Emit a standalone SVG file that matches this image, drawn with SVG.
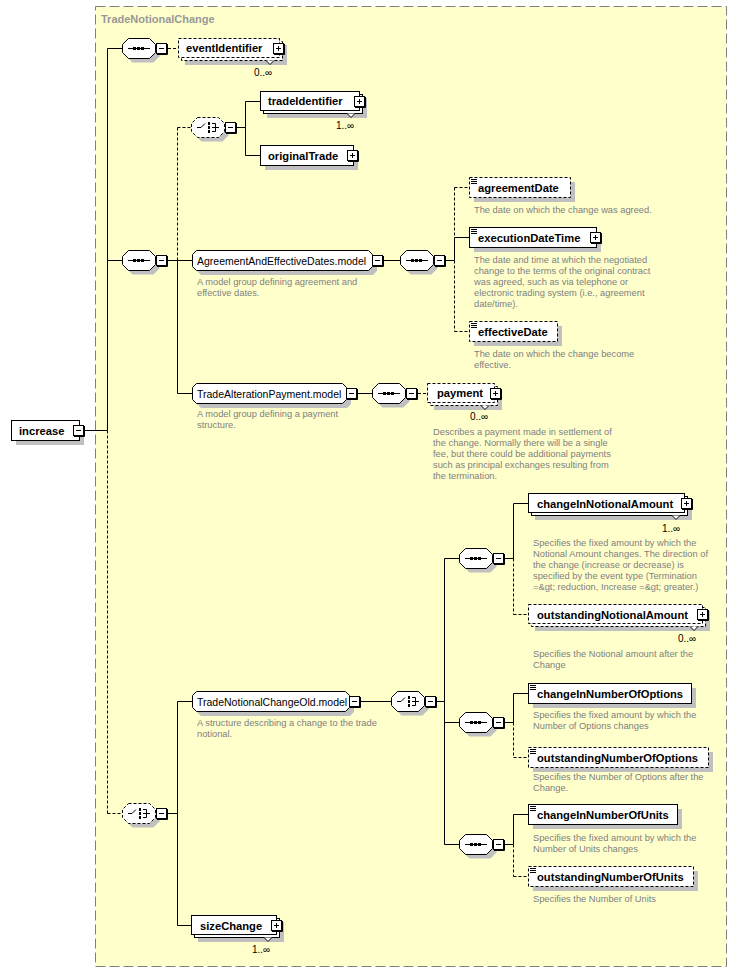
<svg xmlns="http://www.w3.org/2000/svg" xmlns:xlink="http://www.w3.org/1999/xlink" width="737" height="973" viewBox="0 0 737 973">
<defs>
<style>
.box{fill:#fff;stroke:#000;stroke-width:1}
.opt{stroke-dasharray:3,2}
.sh{fill:#c0c0c0;stroke:none}
.ln{fill:none;stroke:#000;stroke-width:1}
.dl{fill:none;stroke:#000;stroke-width:1;stroke-dasharray:3,2}
.el{font-family:"Liberation Sans",Arial,sans-serif;font-weight:bold;font-size:11.2px;fill:#000}
.gr{font-family:"Liberation Sans",Arial,sans-serif;font-size:10.5px;fill:#000}
.ds{font-family:"Liberation Sans",Arial,sans-serif;font-size:9.3px;fill:#808080}
.mu{font-family:"Liberation Sans",Arial,sans-serif;font-size:10px;fill:#000}
.ti{font-family:"Liberation Sans",Arial,sans-serif;font-weight:bold;font-size:11px;fill:#999}
.ic{fill:none;stroke:#000;stroke-width:1}
</style>
<path id="oct" d="M6.5,0.5H27.5L33.5,6.5V14.5L27.5,20.5H6.5L0.5,14.5V6.5Z"/>
<g id="minus"><rect x="0.5" y="0.5" width="10" height="10" fill="#fff" stroke="#000"/><path d="M11.5,1V11.5H1" fill="none" stroke="#000"/><path d="M3,5.5H8" fill="none" stroke="#000"/></g>
<g id="plus"><rect x="0.5" y="0.5" width="10" height="10" fill="#fff" stroke="#000"/><path d="M11.5,1V11.5H1" fill="none" stroke="#000"/><path d="M3,5.5H8M5.5,3V8" fill="none" stroke="#000"/></g>
<g id="seqi"><path d="M6,10.5H28" fill="none" stroke="#000"/><rect x="11" y="9" width="3" height="3"/><rect x="15" y="9" width="3" height="3"/><rect x="19" y="9" width="3" height="3"/></g>
<g id="chi"><path d="M6,10.5H10L14,6.5M21,6.5H24.5M21,10.5H28M21,14.5H24.5M24.5,6.5V14.5" fill="none" stroke="#000"/><rect x="17" y="5" width="2" height="3"/><rect x="17" y="9" width="2" height="3"/><rect x="17" y="13" width="2" height="3"/></g>
<path id="eq" d="M0,0.5H6M0,2.5H6M0,4.5H6" fill="none" stroke="#000"/>
</defs>

<g id="container">
<rect x="95.5" y="6.5" width="631" height="960" fill="#FFFFCC" stroke="#808080" stroke-dasharray="10,4"/>
<text class="ti" x="101" y="23">TradeNotionalChange</text>
</g>

<g id="connectors">
<path class="ln" d="M85,430.5H107.5M107.5,48.5V430.5M107.5,48.5H122.5M107.5,260.5H122.5M168,260.5H192.5M177.5,260.5V393.5M177.5,393.5H192.5M237,127.5H245.5M245.5,101.5V155.5M245.5,101.5H260.5M245.5,155.5H260.5M384,260.5H400.5M446,260.5H454.5M454.5,237.5V260.5M454.5,237.5H469.5M358,393.5H372.5M168,813.5H177.5M177.5,701.5V925.5M177.5,701.5H192.5M177.5,925.5H191.5M361,701.5H391.5M437,701.5H444.5M444.5,558.5V844.5M444.5,558.5H459.5M444.5,722.5H459.5M444.5,844.5H459.5M505,558.5H513.5M513.5,503.5V558.5M513.5,503.5H528.5M505,722.5H513.5M513.5,693.5V722.5M513.5,693.5H528.5M505,844.5H513.5M513.5,814.5V844.5M513.5,814.5H528.5"/>
<path class="dl" d="M107.5,430.5V813.5M107.5,813.5H122.5M168,48.5H178.5M177.5,127.5V260.5M177.5,127.5H191.5M454.5,187.5V237.5M454.5,187.5H469.5M454.5,260.5V331.5M454.5,331.5H469.5M418,393.5H427.5M513.5,558.5V614.5M513.5,614.5H528.5M513.5,722.5V757.5M513.5,757.5H528.5M513.5,844.5V876.5M513.5,876.5H528.5"/>
</g>

<g id="increase">
<rect class="sh" x="16" y="425" width="68" height="20"/>
<rect class="box" x="11.5" y="420.5" width="68" height="20"/>
<text class="el" x="19" y="435">increase</text>
<use xlink:href="#minus" x="73" y="425"/>
</g>

<g id="seq1" transform="translate(122,38)">
<use xlink:href="#oct" class="sh" x="4" y="4"/><use xlink:href="#oct" class="box"/><use xlink:href="#seqi"/>
<use xlink:href="#minus" x="34" y="5"/>
</g>

<g id="eventIdentifier">
<rect class="sh" x="185" y="45" width="102" height="20"/>
<rect class="box opt" x="181.5" y="41.5" width="101" height="19"/>
<rect class="box opt" x="178.5" y="38.5" width="101" height="19"/>
<path d="M266,60.5L270,64.5L274,60.5" fill="#fff" stroke="#000"/>
<text class="el" x="186" y="52">eventIdentifier</text>
<use xlink:href="#plus" x="273" y="43"/>
<text class="mu" x="254" y="76">0..∞</text>
</g>

<g id="choice1" transform="translate(191,117)">
<use xlink:href="#oct" class="sh" x="4" y="4"/><use xlink:href="#oct" class="box opt"/><use xlink:href="#chi"/>
<use xlink:href="#minus" x="34" y="5"/>
</g>

<g id="tradeIdentifier">
<rect class="sh" x="267" y="98" width="100" height="20"/>
<rect class="box" x="263.5" y="94.5" width="99" height="19"/>
<rect class="box" x="260.5" y="91.5" width="99" height="19"/>
<path d="M347,113.5L351,117.5L355,113.5" fill="#fff" stroke="#000"/>
<text class="el" x="268" y="105">tradeIdentifier</text>
<use xlink:href="#plus" x="354" y="96"/>
<text class="mu" x="336" y="129">1..∞</text>
</g>

<g id="originalTrade">
<rect class="sh" x="265" y="150" width="93" height="20"/>
<rect class="box" x="260.5" y="145.5" width="93" height="20"/>
<text class="el" x="268" y="160">originalTrade</text>
<use xlink:href="#plus" x="347" y="150"/>
</g>

<g id="seq2" transform="translate(122,250)">
<use xlink:href="#oct" class="sh" x="4" y="4"/><use xlink:href="#oct" class="box"/><use xlink:href="#seqi"/>
<use xlink:href="#minus" x="34" y="5"/>
</g>

<g id="AgreementAndEffectiveDates.model">
<path class="sh" d="M201,255H373L377,259V271L373,275H201L197,271V259Z"/>
<path class="box" d="M196.5,250.5H368.5L372.5,254.5V266.5L368.5,270.5H196.5L192.5,266.5V254.5Z"/>
<text class="gr" x="197" y="264.5">AgreementAndEffectiveDates.model</text>
<use xlink:href="#minus" x="372" y="255"/>
<text class="ds" x="197" y="285">A model group defining agreement and</text>
<text class="ds" x="197" y="296">effective dates.</text>
</g>

<g id="seq3" transform="translate(400,250)">
<use xlink:href="#oct" class="sh" x="4" y="4"/><use xlink:href="#oct" class="box"/><use xlink:href="#seqi"/>
<use xlink:href="#minus" x="34" y="5"/>
</g>

<g id="agreementDate">
<rect class="sh" x="474" y="182" width="101" height="20"/>
<rect class="box opt" x="469.5" y="177.5" width="101" height="20"/>
<use xlink:href="#eq" x="471" y="179"/>
<text class="el" x="478" y="192">agreementDate</text>
<text class="ds" x="474" y="213">The date on which the change was agreed.</text>
</g>

<g id="executionDateTime">
<rect class="sh" x="474" y="232" width="127" height="20"/>
<rect class="box" x="469.5" y="227.5" width="127" height="20"/>
<use xlink:href="#eq" x="471" y="229"/>
<text class="el" x="478" y="242">executionDateTime</text>
<use xlink:href="#plus" x="590" y="232"/>
<text class="ds" x="474" y="263">The date and time at which the negotiated</text>
<text class="ds" x="474" y="274">change to the terms of the original contract</text>
<text class="ds" x="474" y="285">was agreed, such as via telephone or</text>
<text class="ds" x="474" y="296">electronic trading system (i.e., agreement</text>
<text class="ds" x="474" y="307">date/time).</text>
</g>

<g id="effectiveDate">
<rect class="sh" x="474" y="326" width="88" height="20"/>
<rect class="box opt" x="469.5" y="321.5" width="88" height="20"/>
<use xlink:href="#eq" x="471" y="323"/>
<text class="el" x="478" y="336">effectiveDate</text>
<text class="ds" x="474" y="357">The date on which the change become</text>
<text class="ds" x="474" y="368">effective.</text>
</g>

<g id="TradeAlterationPayment.model">
<path class="sh" d="M201,388H347L351,392V404L347,408H201L197,404V392Z"/>
<path class="box" d="M196.5,383.5H342.5L346.5,387.5V399.5L342.5,403.5H196.5L192.5,399.5V387.5Z"/>
<text class="gr" x="197" y="397.5">TradeAlterationPayment.model</text>
<use xlink:href="#minus" x="346" y="388"/>
<text class="ds" x="197" y="417">A model group defining a payment</text>
<text class="ds" x="197" y="428">structure.</text>
</g>

<g id="seq4" transform="translate(372,383)">
<use xlink:href="#oct" class="sh" x="4" y="4"/><use xlink:href="#oct" class="box"/><use xlink:href="#seqi"/>
<use xlink:href="#minus" x="34" y="5"/>
</g>

<g id="payment">
<rect class="sh" x="434" y="390" width="68" height="20"/>
<rect class="box opt" x="430.5" y="386.5" width="67" height="19"/>
<rect class="box opt" x="427.5" y="383.5" width="67" height="19"/>
<path d="M481,405.5L485,409.5L489,405.5" fill="#fff" stroke="#000"/>
<text class="el" x="437" y="397">payment</text>
<use xlink:href="#plus" x="490" y="388"/>
<text class="mu" x="470" y="420">0..∞</text>
<text class="ds" x="433" y="435">Describes a payment made in settlement of</text>
<text class="ds" x="433" y="446">the change. Normally there will be a single</text>
<text class="ds" x="433" y="457">fee, but there could be additional payments</text>
<text class="ds" x="433" y="468">such as principal exchanges resulting from</text>
<text class="ds" x="433" y="479">the termination.</text>
</g>

<g id="choice2" transform="translate(122,803)">
<use xlink:href="#oct" class="sh" x="4" y="4"/><use xlink:href="#oct" class="box opt"/><use xlink:href="#chi"/>
<use xlink:href="#minus" x="34" y="5"/>
</g>

<g id="TradeNotionalChangeOld.model">
<path class="sh" d="M201,696H350L354,700V712L350,716H201L197,712V700Z"/>
<path class="box" d="M196.5,691.5H345.5L349.5,695.5V707.5L345.5,711.5H196.5L192.5,707.5V695.5Z"/>
<text class="gr" x="197" y="705.5">TradeNotionalChangeOld.model</text>
<use xlink:href="#minus" x="349" y="696"/>
<text class="ds" x="197" y="726">A structure describing a change to the trade</text>
<text class="ds" x="197" y="737">notional.</text>
</g>

<g id="choice3" transform="translate(391,691)">
<use xlink:href="#oct" class="sh" x="4" y="4"/><use xlink:href="#oct" class="box"/><use xlink:href="#chi"/>
<use xlink:href="#minus" x="34" y="5"/>
</g>

<g id="seq5" transform="translate(459,548)">
<use xlink:href="#oct" class="sh" x="4" y="4"/><use xlink:href="#oct" class="box"/><use xlink:href="#seqi"/>
<use xlink:href="#minus" x="34" y="5"/>
</g>

<g id="changeInNotionalAmount">
<rect class="sh" x="535" y="500" width="157" height="20"/>
<rect class="box" x="531.5" y="496.5" width="156" height="19"/>
<rect class="box" x="528.5" y="493.5" width="156" height="19"/>
<path d="M672,515.5L676,519.5L680,515.5" fill="#fff" stroke="#000"/>
<text class="el" x="537" y="507.5">changeInNotionalAmount</text>
<use xlink:href="#plus" x="681" y="498"/>
<text class="mu" x="662" y="532">1..∞</text>
<text class="ds" x="533" y="546">Specifies the fixed amount by which the</text>
<text class="ds" x="533" y="557">Notional Amount changes. The direction of</text>
<text class="ds" x="533" y="568">the change (increase or decrease) is</text>
<text class="ds" x="533" y="579">specified by the event type (Termination</text>
<text class="ds" x="533" y="590">=&amp;gt; reduction, Increase =&amp;gt; greater.)</text>
</g>

<g id="outstandingNotionalAmount">
<rect class="sh" x="535" y="611" width="175" height="20"/>
<rect class="box opt" x="531.5" y="607.5" width="174" height="19"/>
<rect class="box opt" x="528.5" y="604.5" width="174" height="19"/>
<path d="M690,626.5L694,630.5L698,626.5" fill="#fff" stroke="#000"/>
<text class="el" x="537" y="618.5">outstandingNotionalAmount</text>
<use xlink:href="#plus" x="697" y="609"/>
<text class="mu" x="678" y="642">0..∞</text>
<text class="ds" x="533" y="657">Specifies the Notional amount after the</text>
<text class="ds" x="533" y="668">Change</text>
</g>

<g id="seq6" transform="translate(459,712)">
<use xlink:href="#oct" class="sh" x="4" y="4"/><use xlink:href="#oct" class="box"/><use xlink:href="#seqi"/>
<use xlink:href="#minus" x="34" y="5"/>
</g>

<g id="changeInNumberOfOptions">
<rect class="sh" x="533" y="688" width="163" height="20"/>
<rect class="box" x="528.5" y="683.5" width="163" height="20"/>
<use xlink:href="#eq" x="530" y="685"/>
<text class="el" x="537" y="698">changeInNumberOfOptions</text>
<text class="ds" x="533" y="718">Specifies the fixed amount by which the</text>
<text class="ds" x="533" y="729">Number of Options changes</text>
</g>

<g id="outstandingNumberOfOptions">
<rect class="sh" x="533" y="752" width="180" height="20"/>
<rect class="box opt" x="528.5" y="747.5" width="180" height="20"/>
<use xlink:href="#eq" x="530" y="749"/>
<text class="el" x="537" y="762">outstandingNumberOfOptions</text>
<text class="ds" x="533" y="780">Specifies the Number of Options after the</text>
<text class="ds" x="533" y="791">Change.</text>
</g>

<g id="seq7" transform="translate(459,834)">
<use xlink:href="#oct" class="sh" x="4" y="4"/><use xlink:href="#oct" class="box"/><use xlink:href="#seqi"/>
<use xlink:href="#minus" x="34" y="5"/>
</g>

<g id="changeInNumberOfUnits">
<rect class="sh" x="533" y="809" width="149" height="20"/>
<rect class="box" x="528.5" y="804.5" width="149" height="20"/>
<use xlink:href="#eq" x="530" y="806"/>
<text class="el" x="537" y="819">changeInNumberOfUnits</text>
<text class="ds" x="533" y="841">Specifies the fixed amount by which the</text>
<text class="ds" x="533" y="852">Number of Units changes</text>
</g>

<g id="outstandingNumberOfUnits">
<rect class="sh" x="533" y="871" width="165" height="20"/>
<rect class="box opt" x="528.5" y="866.5" width="165" height="20"/>
<use xlink:href="#eq" x="530" y="868"/>
<text class="el" x="537" y="881">outstandingNumberOfUnits</text>
<text class="ds" x="533" y="902">Specifies the Number of Units</text>
</g>

<g id="sizeChange">
<rect class="sh" x="198" y="922" width="86" height="20"/>
<rect class="box" x="194.5" y="918.5" width="85" height="19"/>
<rect class="box" x="191.5" y="915.5" width="85" height="19"/>
<path d="M264,937.5L268,941.5L272,937.5" fill="#fff" stroke="#000"/>
<text class="el" x="200" y="929.5">sizeChange</text>
<use xlink:href="#plus" x="271" y="920"/>
<text class="mu" x="252" y="953">1..∞</text>
</g>
</svg>
